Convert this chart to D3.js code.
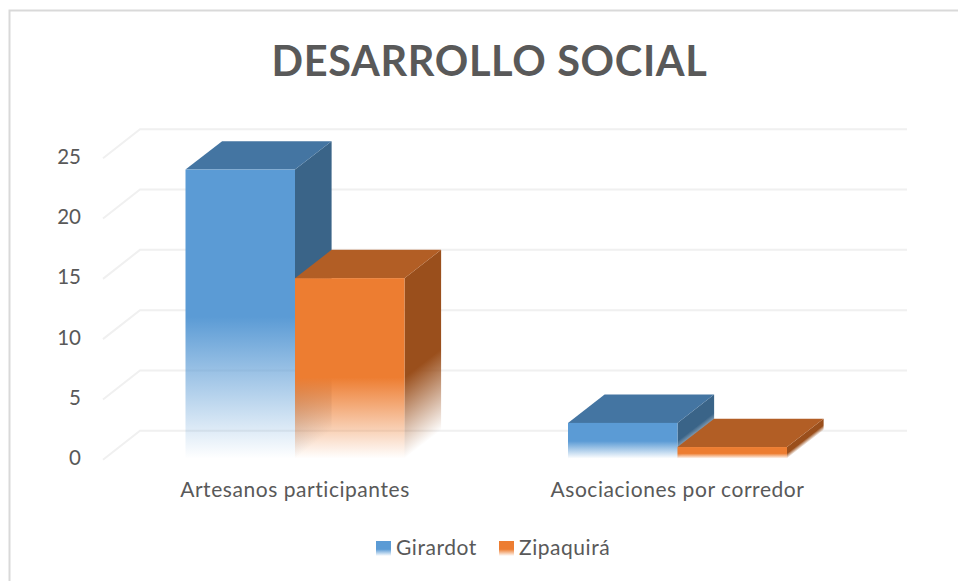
<!DOCTYPE html>
<html><head><meta charset="utf-8">
<script src="https://cdn.jsdelivr.net/npm/d3@7"></script>
<style>html,body{margin:0;padding:0;background:#fff}svg{display:block}text{font-family:Lato,Carlito,sans-serif}</style>
</head><body><div id="c"></div>
<script>
const categories = ["Artesanos participantes", "Asociaciones por corredor"];
const seriesNames = ["Girardot", "Zipaquirá"];
const girardot = [24, 3];
const zipaquira = [15, 1];
const yTicks = [0, 5, 10, 15, 20, 25];
const titleText = "DESARROLLO SOCIAL";
const colors = {
  front: ["#5b9bd5", "#ed7d31"],
  top: ["#4475a2", "#b25e25"],
  side: ["#3a6488", "#9a4f1c"]
};

const W = 958, H = 581;
const DX = 36.6, DY = 28.3;
const svg = d3.select("#c").append("svg").attr("width", W).attr("height", H);
const defs = svg.append("defs");

// back-wall value scale
const y = d3.scaleLinear().domain([0, 25]).range([430.8, 129.2]);
const x0 = d3.scalePoint().domain(categories).range([185.5, 568]);
const x1 = d3.scaleBand().domain(seriesNames).range([0, 219]);
const yF = v => y(v) + DY;

// frame
svg.append("path").attr("d", `M9.5 ${H} V10.5 H${W}`).attr("fill", "none").attr("stroke", "#d9d9d9").attr("stroke-width", 2);

// title
svg.append("text").attr("x", 489.5).attr("y", 76).attr("text-anchor", "middle")
  .attr("font-size", 41.5).attr("letter-spacing", 0.65).attr("font-weight", 700).attr("fill", "#595959").text(titleText);

// grid
const grid = svg.append("g").attr("fill", "none").attr("stroke", "#f0f0f0").attr("stroke-width", 2);
yTicks.forEach(t => {
  grid.append("path").attr("d", `M103 ${y(t) + 29} L140 ${y(t)} H907`);
});

// y labels
svg.append("g").selectAll("text").data(yTicks).join("text")
  .attr("x", 81).attr("y", d => y(d) + 34.5).attr("text-anchor", "end")
  .attr("font-size", 20.5).attr("fill", "#595959").text(d => d);

// bars
const values = [girardot, zipaquira];
function fadeGrad(id, color, x1g, y1g, x2g, y2g) {
  const g = defs.append("linearGradient").attr("id", id).attr("gradientUnits", "userSpaceOnUse")
    .attr("x1", x1g).attr("y1", y1g).attr("x2", x2g).attr("y2", y2g);
  g.append("stop").attr("offset", 0).attr("stop-color", color).attr("stop-opacity", 1);
  g.append("stop").attr("offset", 1).attr("stop-color", color).attr("stop-opacity", 0);
}
const nLen = Math.hypot(DY, DX), ux = DY / nLen, uy = DX / nLen;
const barsG = svg.append("g");
categories.forEach((c, ci) => {
  seriesNames.forEach((s, si) => {
    const v = values[si][ci];
    const bw = x1.bandwidth();
    const xl = x0(c) + x1(s), xr = xl + bw;
    const top = yF(v), base = yF(0) - 0.5;
    const fadeStart = base - (base - top) * (si === 0 ? 0.49 : 0.45);
    const id = `f${ci}${si}`;
    fadeGrad(id + "a", colors.front[si], 0, fadeStart, 0, base);
    const h = base - fadeStart;
    const gx = ux * h * uy, gy = uy * h * uy;
    fadeGrad(id + "b", colors.side[si], xr, fadeStart, xr + gx, fadeStart + gy);
    const g = barsG.append("g");
    // side
    g.append("path").attr("fill", `url(#${id}b)`)
      .attr("d", d3.line()([[xr, top], [xr + DX, top - DY], [xr + DX, base - DY], [xr, base]]) + "Z");
    // top
    g.append("path").attr("fill", colors.top[si])
      .attr("d", d3.line()([[xl, top], [xl + DX, top - DY], [xr + DX, top - DY], [xr, top]]) + "Z");
    // front
    g.append("rect").attr("x", xl).attr("y", top).attr("width", bw).attr("height", base - top)
      .attr("fill", `url(#${id}a)`);
  });
});

// category labels
svg.append("g").selectAll("text").data(categories).join("text")
  .attr("x", d => x0(d) + x1.step()).attr("y", 497).attr("text-anchor", "middle")
  .attr("font-size", 21).attr("letter-spacing", 0.55).attr("fill", "#595959").text(d => d);

// legend
const legendX = [376, 499];
seriesNames.forEach((s, i) => {
  const g = defs.append("linearGradient").attr("id", "lg" + i).attr("x1", 0).attr("y1", 0).attr("x2", 0).attr("y2", 1);
  g.append("stop").attr("offset", 0.55).attr("stop-color", colors.front[i]).attr("stop-opacity", 1);
  g.append("stop").attr("offset", 1).attr("stop-color", colors.front[i]).attr("stop-opacity", 0);
  svg.append("rect").attr("x", legendX[i]).attr("y", 541).attr("width", 15).attr("height", 15).attr("fill", `url(#lg${i})`);
  svg.append("text").attr("x", legendX[i] + 20).attr("y", 555).attr("font-size", 21).attr("letter-spacing", 0.55).attr("fill", "#595959").text(s);
});
</script></body></html>
